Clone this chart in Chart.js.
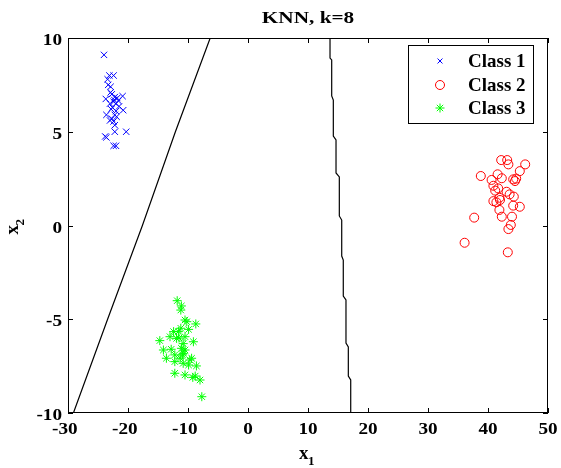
<!DOCTYPE html>
<html><head><meta charset="utf-8">
<script src="https://cdn.jsdelivr.net/npm/chart.js@4/dist/chart.umd.min.js"></script>
<style>html,body{margin:0;padding:0;background:#fff}#wrap{width:561px;height:468px}</style>
</head><body><div id="wrap"><canvas id="c" width="561" height="468"></canvas></div>
<script>
const chartTitle = "KNN, k=8";
const xTicks = [-30,-20,-10,0,10,20,30,40,50];
const yTicks = [-10,-5,0,5,10];
const seriesNames = ["Class 1","Class 2","Class 3"];
const class1 = [[-24.0,9.1],[-23.1,8.0],[-22.4,8.0],[-23.4,7.8],[-23.3,7.5],[-22.9,7.4],[-22.9,7.1],[-22.7,7.0],[-23.7,6.75],[-22.2,6.85],[-20.9,6.9],[-22.4,6.6],[-23.0,6.5],[-22.0,6.5],[-21.6,6.65],[-21.5,6.35],[-20.8,6.15],[-22.0,6.1],[-22.6,6.3],[-23.6,5.9],[-22.2,5.9],[-22.7,5.7],[-22.4,5.55],[-23.0,5.6],[-22.2,5.35],[-22.2,5.0],[-20.3,5.0],[-23.8,4.75],[-23.6,4.7],[-22.4,4.25],[-22.0,4.25],[-21.8,6.8],[-22.3,6.7],[-22.8,6.2],[-21.9,5.8]];
const class2 = [[42.2,3.49],[43.2,3.49],[43.4,3.26],[46.2,3.26],[45.3,2.9],[38.8,2.64],[41.6,2.73],[40.6,2.43],[42.3,2.52],[44.2,2.46],[44.7,2.5],[44.5,2.37],[40.9,2.12],[41.7,1.98],[41.2,1.86],[43.1,1.8],[43.6,1.66],[44.3,1.54],[41.9,1.48],[40.9,1.3],[41.4,1.24],[42.0,1.36],[44.2,1.06],[45.3,1.0],[41.9,0.83],[42.3,0.47],[44.0,0.47],[37.7,0.42],[43.8,0.03],[43.4,-0.19],[36.1,-0.92],[43.3,-1.43]];
const class3 = [[-11.8,-4.01],[-11.1,-4.29],[-11.2,-4.51],[-10.5,-5.04],[-10.2,-5.13],[-8.7,-5.25],[-11.2,-5.48],[-12.4,-5.66],[-11.6,-5.66],[-9.9,-5.54],[-13.0,-5.93],[-11.9,-6.02],[-10.5,-5.93],[-9.1,-6.2],[-14.7,-6.14],[-10.8,-6.3],[-10.5,-6.64],[-10.8,-6.82],[-11.1,-6.55],[-14.1,-6.64],[-12.8,-6.6],[-12.2,-6.9],[-13.6,-7.08],[-11.3,-7.08],[-9.7,-7.17],[-9.4,-7.08],[-12.2,-7.26],[-10.8,-7.35],[-9.9,-7.44],[-8.6,-7.49],[-12.2,-7.88],[-10.5,-7.97],[-9.2,-8.1],[-8.8,-8.03],[-8.0,-8.24],[-7.7,-9.13],[-11.5,-6.0],[-10.9,-6.9]];
const boundary1 = [[-29.1,-10],[-23.4,-5],[-17.6,0],[-12.1,5],[-6.3,10]];
const boundary2 = [[13.67,10],[13.67,8.93],[13.95,8.83],[13.95,6.91],[14.22,6.69],[14.22,4.77],[14.67,4.56],[14.67,2.8],[15.22,2.59],[15.22,0.51],[15.62,0.29],[15.62,-1.63],[15.88,-1.84],[15.88,-3.76],[16.33,-3.97],[16.33,-6.27],[16.72,-6.48],[16.72,-8.03],[17.12,-8.24],[17.12,-10]];

const toXY = a => a.map(p => ({x:p[0], y:p[1]}));
const SERIF = '"Liberation Serif","Times New Roman",serif';
const STRETCH = 1.2;

const ds = [
  {label:seriesNames[0], data:toXY(class1), pointStyle:'crossRot', pointRadius:4.5, borderColor:'#0000ff', backgroundColor:'#0000ff', pointBorderWidth:1, showLine:false, legendRow:0},
  {label:seriesNames[1], data:toXY(class2), pointStyle:'circle', pointRadius:4.5, borderColor:'#ff0000', backgroundColor:'rgba(0,0,0,0)', pointBorderWidth:1, showLine:false, legendRow:1},
  {label:seriesNames[2], data:toXY(class3), pointStyle:'star', pointRadius:4.5, borderColor:'#00ff00', backgroundColor:'#00ff00', pointBorderWidth:1, showLine:false, legendRow:2},
  {label:'b1', data:toXY(boundary1), showLine:true, pointRadius:0, borderColor:'#000', borderWidth:1.2, fill:false},
  {label:'b2', data:toXY(boundary2), showLine:true, pointRadius:0, borderColor:'#000', borderWidth:1.2, fill:false}
];

function stretchedText(ctx, txt, x, y, align, sx){
  ctx.save();
  ctx.translate(x, y);
  ctx.scale(sx, 1);
  ctx.textAlign = align;
  ctx.fillText(txt, 0, 0);
  ctx.restore();
}

const deco = {
  id:'deco',
  afterDraw(chart){
    const ctx = chart.ctx, a = chart.chartArea, xs = chart.scales.x, ys = chart.scales.y;
    ctx.save();
    ctx.strokeStyle = '#000'; ctx.lineWidth = 1;
    ctx.strokeRect(Math.round(a.left)+0.5, Math.round(a.top)+0.5, Math.round(a.right-a.left)-1, Math.round(a.bottom-a.top)-1);
    const tl = 5;
    ctx.beginPath();
    xs.ticks.forEach(t => { const px = Math.round(xs.getPixelForValue(t.value))+0.5;
      ctx.moveTo(px, a.bottom); ctx.lineTo(px, a.bottom - tl);
      ctx.moveTo(px, a.top); ctx.lineTo(px, a.top + tl); });
    ys.ticks.forEach(t => { const py = Math.round(ys.getPixelForValue(t.value))+0.5;
      ctx.moveTo(a.left, py); ctx.lineTo(a.left + tl, py);
      ctx.moveTo(a.right, py); ctx.lineTo(a.right - tl, py); });
    ctx.stroke();
    // tick labels (from the scales)
    ctx.fillStyle = '#000';
    ctx.font = 'bold 16px ' + SERIF;
    ctx.textBaseline = 'alphabetic';
    const minusW = ctx.measureText('-').width * STRETCH;
    xs.ticks.forEach(t => {
      const px = xs.getPixelForValue(t.value);
      const lbl = String(t.value);
      const off = t.value < 0 ? -minusW/2 : 0;
      stretchedText(ctx, lbl, px + off, 433.5, 'center', STRETCH);
    });
    ys.ticks.forEach(t => {
      const py = ys.getPixelForValue(t.value);
      stretchedText(ctx, String(t.value), a.left - 6, py + 7, 'right', STRETCH);
    });
    // title
    ctx.font = 'bold 17px ' + SERIF;
    stretchedText(ctx, chartTitle, (a.left+a.right)/2, 23, 'center', 1.25);
    // x label
    const xc = (a.left+a.right)/2;
    ctx.font = 'bold 19px ' + SERIF; ctx.textAlign = 'left';
    ctx.fillText('x', xc - 9, 459);
    ctx.font = 'bold 13px ' + SERIF;
    ctx.fillText('1', xc + 0, 465);
    // y label
    ctx.save();
    ctx.translate(18, (a.top+a.bottom)/2);
    ctx.rotate(-Math.PI/2);
    ctx.font = 'bold 19px ' + SERIF; ctx.textAlign = 'left';
    ctx.fillText('x', -9, 0);
    ctx.font = 'bold 13px ' + SERIF;
    ctx.fillText('2', 0, 6);
    ctx.restore();
    // legend
    const L = {l:408, t:45, r:533, b:123};
    ctx.fillStyle = '#fff';
    ctx.fillRect(L.l, L.t, L.r-L.l, L.b-L.t);
    ctx.strokeStyle = '#000';
    ctx.strokeRect(L.l+0.5, L.t+0.5, L.r-L.l, L.b-L.t);
    const rows = [61, 85, 108];
    chart.data.datasets.forEach(d => {
      if (d.legendRow === undefined) return;
      const y = rows[d.legendRow];
      ctx.strokeStyle = d.borderColor; ctx.fillStyle = d.backgroundColor; ctx.lineWidth = 1;
      Chart.helpers.drawPoint(ctx, {pointStyle:d.pointStyle, radius:d.legendRow===0?3.5:d.pointRadius, rotation:0, borderWidth:1}, 440, y);
      ctx.fillStyle = '#000';
      ctx.font = 'bold 19px ' + SERIF; ctx.textAlign = 'left'; ctx.textBaseline = 'middle';
      ctx.fillText(d.label, 468, y + 1);
      ctx.textBaseline = 'alphabetic';
    });
    ctx.restore();
  }
};

new Chart(document.getElementById('c'), {
  type:'scatter',
  data:{datasets:ds},
  options:{
    responsive:false, animation:false, devicePixelRatio:1,
    layout:{padding:{top:38, right:13, left:0, bottom:0}},
    plugins:{legend:{display:false}, title:{display:false}, tooltip:{enabled:false}},
    scales:{
      x:{type:'linear', min:-30, max:50,
         afterBuildTicks(s){ s.ticks = xTicks.map(v=>({value:v})); },
         afterFit(s){ s.height = 55; },
         grid:{display:false, drawTicks:false}, border:{display:false},
         ticks:{display:false}},
      y:{type:'linear', min:-10, max:10,
         afterBuildTicks(s){ s.ticks = yTicks.map(v=>({value:v})); },
         afterFit(s){ s.width = 68; },
         grid:{display:false, drawTicks:false}, border:{display:false},
         ticks:{display:false}}
    }
  },
  plugins:[deco]
});
</script></body></html>
